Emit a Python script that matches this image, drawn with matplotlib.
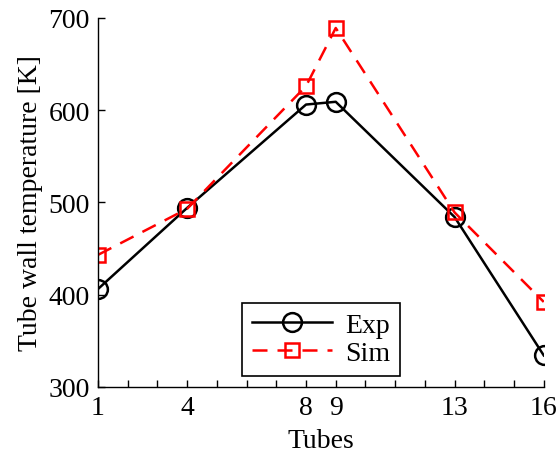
import matplotlib
matplotlib.use("Agg")
import matplotlib.pyplot as plt

# data
tubes = [1, 4, 8, 9, 13, 16]
exp_temp = [406, 494, 606, 609, 484, 334]
sim_temp = [443, 493, 626, 689, 489, 392]
tick_labels = ["1", "4", "8", "9", "13", "16"]

plt.rcParams['font.family'] = ['Liberation Serif', 'DejaVu Serif']
plt.rcParams['mathtext.fontset'] = 'stix'

fig = plt.figure(figsize=(5.6, 4.6), dpi=100)
ax = fig.add_axes([0.175, 0.157, 0.796, 0.802])

ax.plot(tubes, exp_temp, color='black', linewidth=1.8, marker='o',
        markersize=13.5, markerfacecolor='none', markeredgewidth=1.8, label='Exp')
ax.plot(tubes, sim_temp, color='red', linewidth=1.8, linestyle=(0, (6, 4)),
        marker='s', markersize=10.5, markerfacecolor='none', markeredgewidth=1.8,
        label='Sim')

ax.set_xlim(1, 16)
ax.set_ylim(300, 700)
all_ticks = list(range(1, 17))
ax.set_xticks(all_ticks)
ax.set_xticklabels([str(t) if str(t) in tick_labels else "" for t in all_ticks])
ax.set_yticks([300, 400, 500, 600, 700])

ax.tick_params(direction='in', length=5, width=1, labelsize=20, pad=6)
for side in ['top', 'right']:
    ax.spines[side].set_visible(False)
for side in ['left', 'bottom']:
    ax.spines[side].set_linewidth(1)

ax.set_xlabel('Tubes', fontsize=20, labelpad=6)
ax.set_ylabel('Tube wall temperature [K]', fontsize=20, labelpad=4)

leg = ax.legend(loc='lower center', bbox_to_anchor=(0.5, 0.03), fontsize=20,
                numpoints=1, handlelength=2.9, fancybox=False, framealpha=1,
                borderpad=0.35, labelspacing=0.1, handletextpad=0.45,
                borderaxespad=0)
leg.get_frame().set_edgecolor('black')
leg.get_frame().set_linewidth(1.2)

fig.savefig('out.png', dpi=100)
